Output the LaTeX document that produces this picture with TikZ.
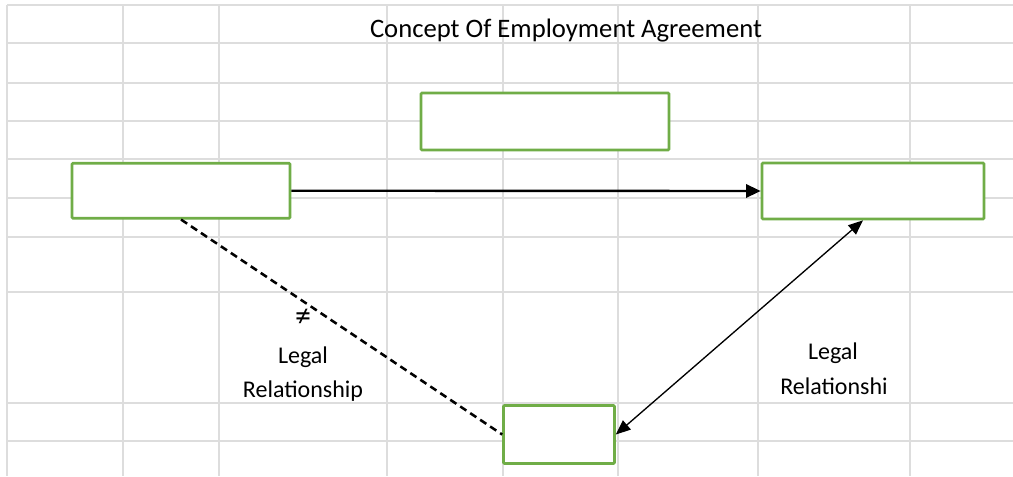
\documentclass[tikz,border=0pt]{standalone}
\usepackage{fontspec}
\setmainfont{Carlito}
\usetikzlibrary{arrows.meta,calc}
\definecolor{gridgray}{HTML}{DDDDDD}
\definecolor{boxgreen}{HTML}{70AD47}
\begin{document}
\begin{tikzpicture}[x=0.75pt,y=-0.75pt,
  gridline/.style={draw=gridgray,line width=1pt},
  greenbox/.style={draw=boxgreen,fill=white,line width=2pt,inner sep=0pt,rounded corners=0.8pt},
  solidarrow/.style={line width=1.8pt,-{Triangle[length=11pt,width=10pt]}},
  dblarrow/.style={line width=1pt,{Triangle[length=11pt,width=9pt]}-{Triangle[length=11pt,width=9pt]}},
  dashline/.style={line width=1.9pt,dash pattern=on 5.5pt off 3.5pt},
  lbl/.style={font=\fontsize{18pt}{25.5pt}\selectfont,align=center,inner sep=0pt},
  neqlbl/.style={font=\fontsize{24pt}{26pt}\selectfont,inner sep=0pt},
  titlelbl/.style={font=\fontsize{20pt}{24pt}\selectfont,inner sep=0pt}]
\useasboundingbox[fill=white] (0,0) rectangle (1013,476);
% grid
\foreach \gx in {7,123,219,387,503,618,758,910}
  \draw[gridline] (\gx,5) -- (\gx,476);
\foreach \gy in {5,43,83,121,159,198,237,292,403,441}
  \draw[gridline] (7,\gy) -- (1013,\gy);
% title
\node[titlelbl,anchor=base] (title) at (566,37) {Concept Of Employment Agreement};
% boxes
\node[greenbox,minimum width=248*0.75pt,minimum height=57*0.75pt] (top) at (545,121.5) {};
\node[greenbox,minimum width=218*0.75pt,minimum height=55*0.75pt] (left) at (181,190.7) {};
\node[greenbox,minimum width=222*0.75pt,minimum height=56*0.75pt] (right) at (873,191) {};
\node[greenbox,minimum width=111*0.75pt,minimum height=58*0.75pt] (bottom) at (559,434.5) {};
% connectors
\draw[solidarrow] (left.east) -- (right.west);
\draw[dashline] (left.south) -- (bottom.west);
\coordinate (rs) at ($(right.south)+(-10,0)$);
\draw[dblarrow] (rs) -- (bottom.east);
% labels
\node[neqlbl] (neq) at (303,318) {≠};
\node[lbl,anchor=base] (ll1) at (303,363) {Legal};
\node[lbl,anchor=base] (ll2) at (303,397) {Relationship};
\node[lbl,anchor=base] (rl1) at (833,359) {Legal};
\node[lbl,anchor=base] (rl2) at (834,394) {Relationshi};
\end{tikzpicture}
\end{document}
